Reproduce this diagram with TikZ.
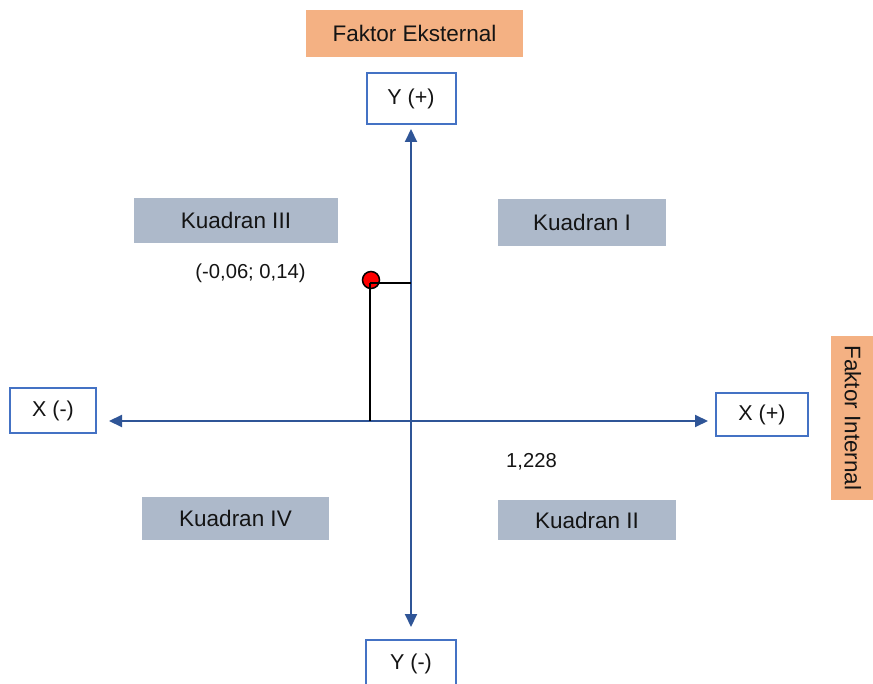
\documentclass[tikz,border=0pt]{standalone}
\usepackage{fontspec}
\setmainfont{Liberation Sans}
\usetikzlibrary{arrows.meta}
\definecolor{orangebox}{HTML}{F4B183}
\definecolor{graybox}{HTML}{ADB9CA}
\definecolor{boxblue}{HTML}{4472C4}
\definecolor{axisblue}{HTML}{2F5597}
\definecolor{txt}{HTML}{141414}
\tikzset{
  every node/.style={text=txt, font=\fontsize{22.5}{26}\selectfont, inner sep=0pt},
  factorbox/.style={fill=orangebox, draw=none},
  axisbox/.style={draw=boxblue, line width=2pt, fill=white, font=\fontsize{21.5}{25}\selectfont},
  quadbox/.style={fill=graybox, draw=none},
  axisline/.style={draw=axisblue, line width=2pt, {Triangle[length=13pt,width=12pt]}-{Triangle[length=13pt,width=12pt]}},
  guide/.style={draw=black, line width=2pt},
  plainlabel/.style={font=\fontsize{20.2}{24}\selectfont}
}
\begin{document}
\begin{tikzpicture}[x=1pt,y=-1pt]
\useasboundingbox (0,0) rectangle (873,684);
\clip (0,0) rectangle (873,684);
\coordinate (O) at (411,421);
% factor boxes
\node[factorbox, minimum width=217pt, minimum height=47pt] (ext) at (414.5,33.5) {Faktor Eksternal};
\node[factorbox, minimum width=164pt, minimum height=44pt, rotate=-90] (int) at (853,418) {Faktor Internal};
% axis boxes
\node[axisbox, minimum width=89pt, minimum height=51pt] (yplus) at (411,98.5) {Y (+)};
\node[axisbox, minimum width=90pt, minimum height=56pt] (yminus) at (411,668) {};
\node[font=\fontsize{21.5}{25}\selectfont] (yminuslabel) at (411,664) {Y (-)};
\node[axisbox, minimum width=86pt, minimum height=45pt] (xminus) at (53,410.5) {X (-)};
\node[axisbox, minimum width=92pt, minimum height=43pt] (xplus) at (762,414.5) {X (+)};
% quadrants
\node[quadbox, minimum width=204pt, minimum height=45pt] (q3) at (236,220.5) {Kuadran III};
\node[quadbox, minimum width=168pt, minimum height=47pt] (q1) at (582,222.5) {Kuadran I};
\node[quadbox, minimum width=187pt, minimum height=43pt] (q4) at (235.5,518.5) {Kuadran IV};
\node[quadbox, minimum width=178pt, minimum height=40pt] (q2) at (587,520) {Kuadran II};
% axes
\draw[axisline, shorten <=4pt, shorten >=12pt] (O |- yplus.south) -- (O |- yminus.north);
\draw[axisline, shorten <=12pt, shorten >=7pt] (xminus.east |- O) -- (xplus.west |- O);
% labels
\node[plainlabel] (coord) at (250.5,273.5) {(-0,06; 0,14)};
\node[plainlabel] (val) at (531.5,462) {1,228};
% point
\node[circle, fill=red, draw=black, line width=1.5pt, minimum size=17pt] (pt) at (371,280) {};
\coordinate (c) at (370,283);
\draw[guide] (c) -- (c |- O);
\draw[guide] (c) -- (O |- c);
\end{tikzpicture}
\end{document}
